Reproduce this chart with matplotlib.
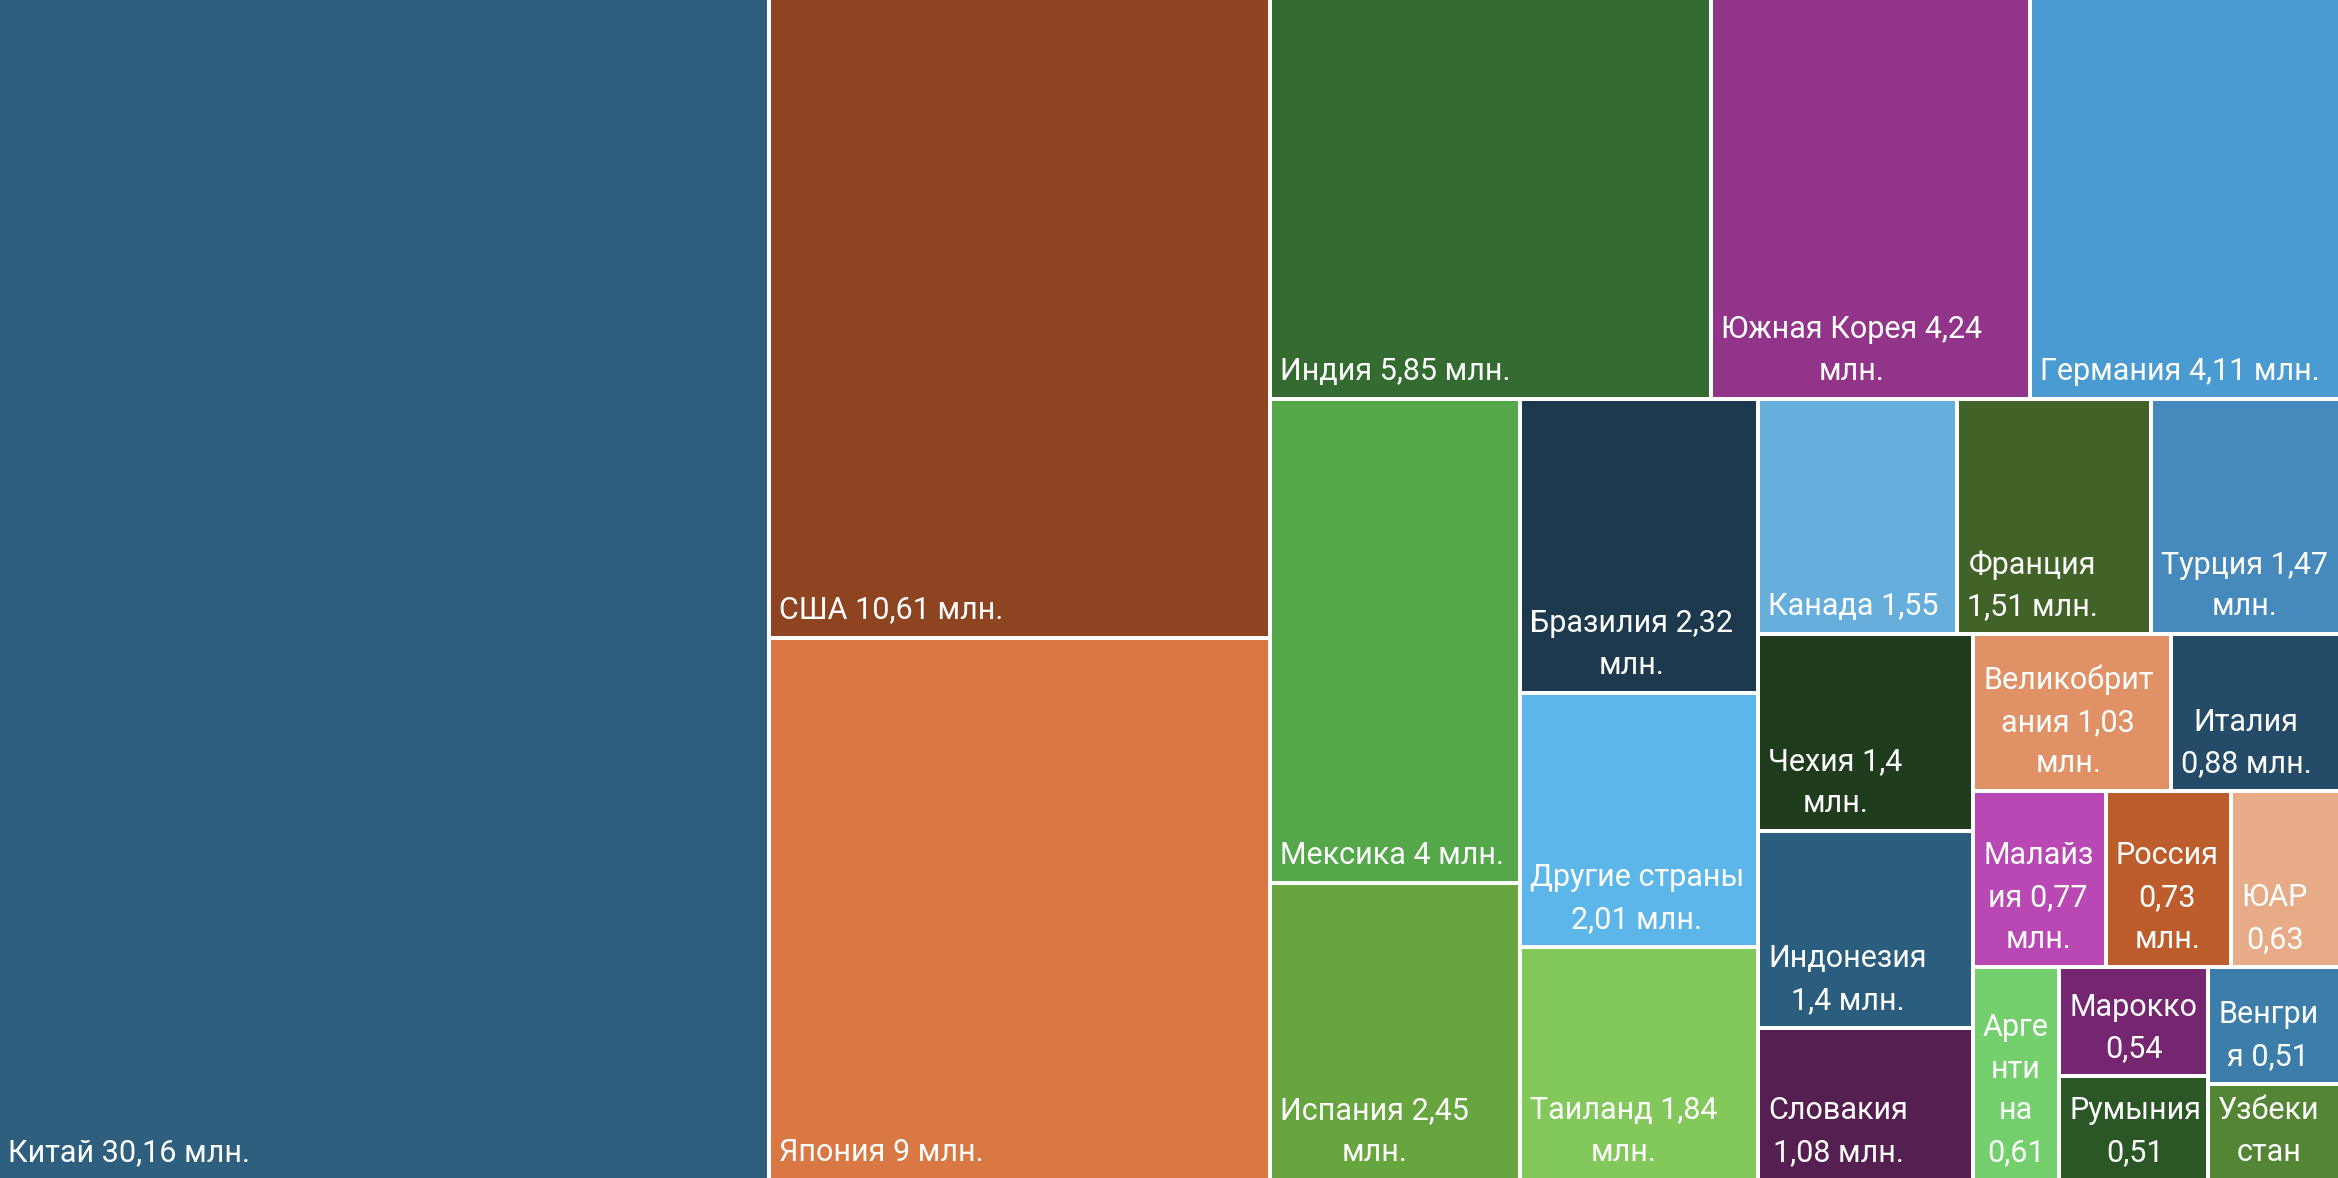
import matplotlib
matplotlib.use("Agg")
import matplotlib.pyplot as plt
from matplotlib.patches import Rectangle

# Data: car sales by country (млн.), biggest first
countries = ["Китай", "США", "Япония", "Индия", "Южная Корея", "Германия",
             "Мексика", "Испания", "Бразилия", "Другие страны", "Таиланд",
             "Канада", "Франция", "Турция", "Чехия", "Индонезия", "Словакия",
             "Великобритания", "Италия", "Малайзия", "Россия", "ЮАР",
             "Аргентина", "Марокко", "Румыния", "Венгрия", "Узбекистан"]
values = [30.16, 10.61, 9, 5.85, 4.24, 4.11,
          4, 2.45, 2.32, 2.01, 1.84,
          1.55, 1.51, 1.47, 1.4, 1.4, 1.08,
          1.03, 0.88, 0.77, 0.73, 0.63,
          0.61, 0.54, 0.51, 0.51, 0.42]  # Узбекистан value is cut off, estimated from area
# label text as it is wrapped in the original
labels = ["Китай 30,16 млн.", "США 10,61 млн.", "Япония 9 млн.", "Индия 5,85 млн.",
          "Южная Корея 4,24\nмлн.", "Германия 4,11 млн.",
          "Мексика 4 млн.", "Испания 2,45\nмлн.", "Бразилия 2,32\nмлн.",
          "Другие страны\n2,01 млн.", "Таиланд 1,84\nмлн.",
          "Канада 1,55", "Франция\n1,51 млн.", "Турция 1,47\nмлн.",
          "Чехия 1,4\nмлн.", "Индонезия\n1,4 млн.", "Словакия\n1,08 млн.",
          "Великобрит\nания 1,03\nмлн.", "Италия\n0,88 млн.",
          "Малайз\nия 0,77\nмлн.", "Россия\n0,73\nмлн.", "ЮАР\n0,63",
          "Арге\nнти\nна\n0,61", "Марокко\n0,54", "Румыния\n0,51",
          "Венгри\nя 0,51", "Узбеки\nстан"]
colors = ["#2E5F7F", "#8E4420", "#D97843", "#346B30", "#93348B", "#4A9BD2",
          "#54A84A", "#67A53F", "#1C394E", "#5DB6E9", "#83C85B",
          "#66AEDB", "#416328", "#4689BC", "#1F3D1C", "#2B5E7E", "#561F51",
          "#E09165", "#244B68", "#B947B4", "#BE5D2C", "#E8AB88",
          "#74D06C", "#762671", "#2B5625", "#3D7DAA", "#548535"]
# how many items go into each strip of the squarified layout
strips = [1, 2, 3, 2, 3, 3, 3, 2, 3, 1, 2, 1, 1]

W, H = 2338, 1178
GAP = 4


# Lay the strips out one after another along the short side of what is left
def treemap(vals, strip_sizes, x, y, w, h):
    rects = []
    i = 0
    for k in strip_sizes:
        rest = sum(vals[i:])
        part = vals[i:i + k]
        s = sum(part)
        if w >= h:
            # column at the left, cells top to bottom
            cw = w * s / rest
            cy = y
            for v in part:
                ch = h * v / s
                rects.append((x, cy, cw, ch))
                cy += ch
            x += cw
            w -= cw
        else:
            # row at the top, cells left to right
            rh = h * s / rest
            cx = x
            for v in part:
                cw = w * v / s
                rects.append((cx, y, cw, rh))
                cx += cw
            y += rh
            h -= rh
        i += k
    return rects


rects = treemap(values, strips, 0, 0, W, H)

fig = plt.figure(figsize=(W / 100, H / 100), dpi=100)
ax = fig.add_axes([0, 0, 1, 1])
ax.set_xlim(GAP / 2, W - GAP / 2)
ax.set_ylim(H - GAP / 2, GAP / 2)
ax.axis("off")
fig.patch.set_facecolor("white")

for (rx, ry, rw, rh), lab, col in zip(rects, labels, colors):
    ax.add_patch(Rectangle((rx + GAP / 2, ry + GAP / 2), rw - GAP, rh - GAP,
                           facecolor=col, edgecolor="none"))
    ax.text(rx + GAP / 2 + 8, ry + rh - 13, lab, color="white",
            fontsize=22, family="Roboto", ha="left", va="bottom",
            multialignment="center", linespacing=1.55)

fig.savefig("out.png", dpi=100, facecolor="white")
